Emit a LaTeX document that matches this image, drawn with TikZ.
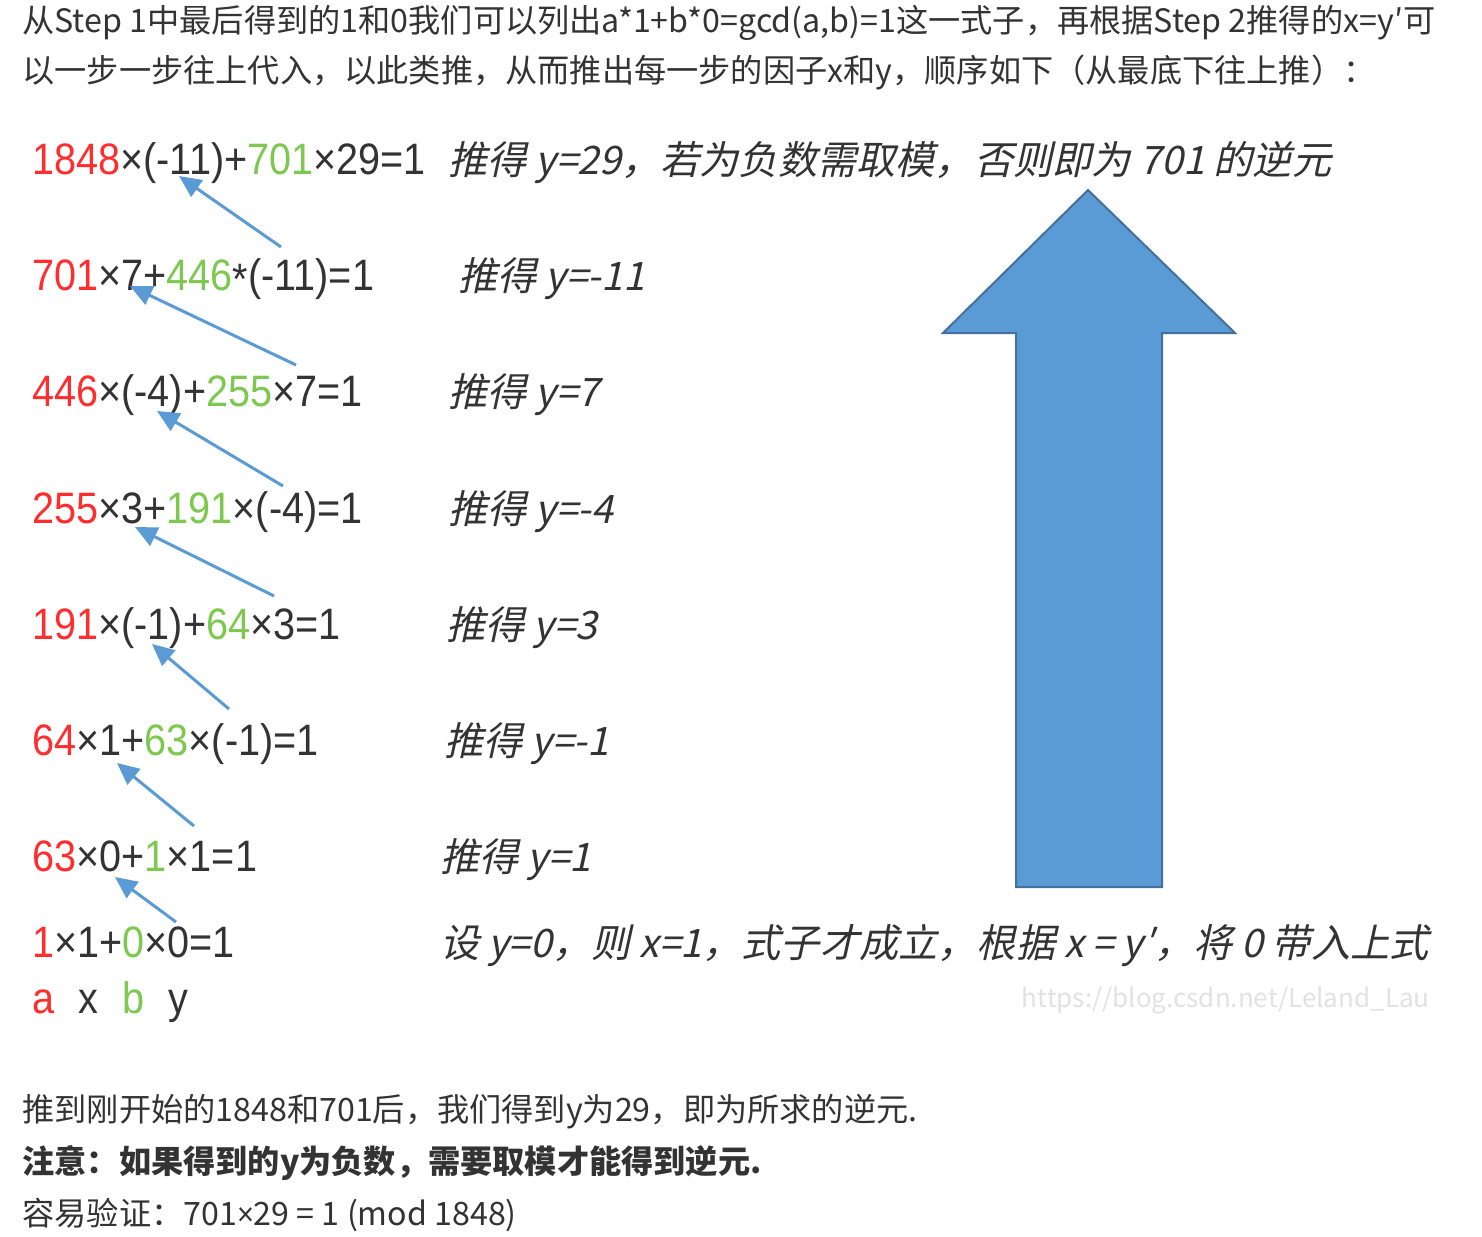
\documentclass[tikz,border=0pt]{standalone}
\usepackage{fontspec}
\setmainfont{Noto Sans CJK SC}
\newfontfamily\eqfont[FakeStretch=0.9]{Liberation Sans}
\newfontfamily\slcjk[FakeSlant=0.22]{Noto Sans CJK SC}
\usetikzlibrary{arrows.meta, positioning, calc}

\definecolor{eqred}{HTML}{FF2D2D}
\definecolor{eqgreen}{HTML}{7DC84E}
\definecolor{arrblue}{HTML}{5B9BD5}
\definecolor{arredge}{HTML}{41719C}
\definecolor{txtgray}{HTML}{333333}
\definecolor{markgray}{HTML}{E2E2E2}

\newcommand{\rd}[1]{\textcolor{eqred}{#1}}
\newcommand{\gn}[1]{\textcolor{eqgreen}{#1}}

\begin{document}
\begin{tikzpicture}[x=0.5pt, y=-0.5pt,
    para/.style={anchor=base west, inner sep=0pt, text=txtgray, font=\fontsize{16.1}{19}\selectfont},
    eq/.style={anchor=base west, inner sep=0pt, text=txtgray, font=\eqfont\fontsize{22}{26}\selectfont},
    note/.style={anchor=base west, inner sep=0pt, text=txtgray, font=\slcjk\fontsize{19.6}{22}\selectfont},
    back/.style={-{Triangle[length=11pt, width=10pt]}, arrblue, line width=1.5pt}]
    \path[use as bounding box, fill=white] (0,0) rectangle (1482,1236);

    % intro lines
    \node[para] (intro1) at (22,33) {从Step 1中最后得到的1和0我们可以列出a*1+b*0=gcd(a,b)=1这一式子，再根据Step 2推得的x=y′可};
    \node[para] (intro2) at (22,83) {以一步一步往上代入，以此类推，从而推出每一步的因子x和y，顺序如下（从最底下往上推）：};

    % equations, bottom row is the start
    \node[eq] (eq1) at (32,174) {\rd{1848}×(-11)+\gn{701}×29=1};
    \node[eq] (eq2) at (32,290) {\rd{701}×7+\gn{446}\raisebox{-0.2ex}{*}(-11)=1};
    \node[eq] (eq3) at (32,406) {\rd{446}×(-4)+\gn{255}×7=1};
    \node[eq] (eq4) at (32,523) {\rd{255}×3+\gn{191}×(-4)=1};
    \node[eq] (eq5) at (32,639) {\rd{191}×(-1)+\gn{64}×3=1};
    \node[eq] (eq6) at (32,755) {\rd{64}×1+\gn{63}×(-1)=1};
    \node[eq] (eq7) at (32,871) {\rd{63}×0+\gn{1}×1=1};
    \node[eq] (eq8) at (32,957) {\rd{1}×1+\gn{0}×0=1};
    \node[eq] (legend) at (32,1013) {\rd{a}\hspace{12pt}x\hspace{12pt}\gn{b}\hspace{12pt}y};

    % notes on the right
    \node[note] (y1) at (448,174) {推得 y=29，若为负数需取模，否则即为 701 的逆元};
    \node[note] (y2) at (458,290) {推得 y=-11};
    \node[note] (y3) at (448,406) {推得 y=7};
    \node[note] (y4) at (448,523) {推得 y=-4};
    \node[note] (y5) at (446,639) {推得 y=3};
    \node[note] (y6) at (444,755) {推得 y=-1};
    \node[note] (y7) at (440,871) {推得 y=1};
    \node[note] (y8) at (440,957) {设 y=0，则 x=1，式子才成立，根据 x = y′，将 0 带入上式};

    % back-substitution arrows
    \foreach \tx/\ty/\hx/\hy [count=\i] in {281/247/179/176, 296/365/130/286,
        283/486/157/411, 274/596/135/527, 229/709/152/644,
        194/826/117/763, 176/922/115/877} {
      \coordinate (tail\i) at (\tx,\ty);
      \coordinate (tip\i) at (\hx,\hy);
      \draw[back] (tail\i) -- (tip\i);
    }

    % big upward arrow
    \draw[fill=arrblue, draw=arredge, line width=1pt, line join=miter]
      (1088,190) -- (1235,333) -- (1162,333) -- (1162,887)
      -- (1016,887) -- (1016,333) -- (943,333) -- cycle;

    \node[anchor=east, inner sep=0pt, text=markgray, font=\fontsize{13}{15}\selectfont] (mark) at (1430,1000) {https://blog.csdn.net/Leland\_Lau};

    % closing lines
    \node[para] (end1) at (22,1121) {推到刚开始的1848和701后，我们得到y为29，即为所求的逆元.};
    \node[para, font=\bfseries\fontsize{16.1}{19}\selectfont] (end2) at (22,1173) {注意：如果得到的y为负数，需要取模才能得到逆元.};
    \node[para] (end3) at (22,1225) {容易验证：701{\eqfont ×}29 = 1 (mod 1848)};
\end{tikzpicture}
\end{document}
